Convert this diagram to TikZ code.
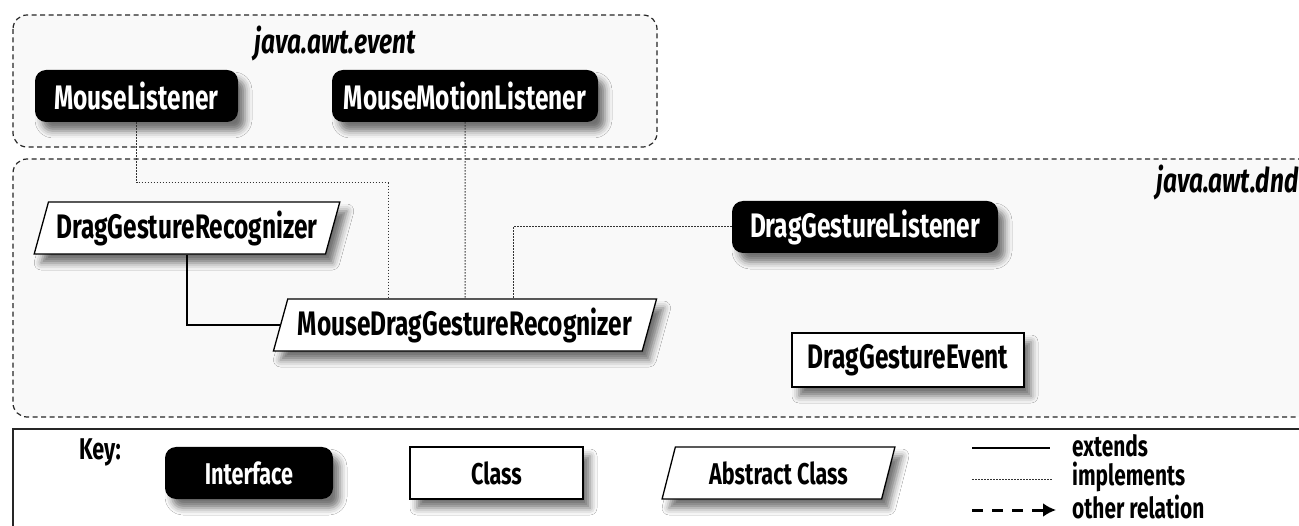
\documentclass[tikz,border=0pt]{standalone}
\usepackage{fontspec}
\setmainfont{Fira Sans}[FakeStretch=0.72]
\usetikzlibrary{shapes.geometric,shadows.blur,arrows.meta}
\begin{document}
\begin{tikzpicture}[x=1pt,y=-1pt,
  base/.style={font=\bfseries\fontsize{34}{36}\selectfont, minimum height=52pt, inner sep=0pt,
    blur shadow={shadow xshift=7pt, shadow yshift=-9pt, shadow blur radius=7pt, shadow opacity=55}},
  keyfont/.style={font=\bfseries\fontsize{30}{32}\selectfont},
  iface/.style={base, fill=black, text=white, rounded corners=11pt},
  cls/.style={base, draw=black, line width=1.3pt, fill=white},
  abs/.style={base, draw=black, line width=1.3pt, fill=white, trapezium, trapezium left angle=69,
    trapezium right angle=111, trapezium stretches=true},
  pkg/.style={draw=black!85, line width=1.2pt, dash pattern=on 5pt off 3.5pt},
  pkglabel/.style={font=\bfseries\itshape\fontsize{34}{36}\selectfont},
  impl/.style={draw=black!80, line width=1pt, dash pattern=on 1.5pt off 1.5pt},
  ext/.style={draw=black, line width=1.4pt},
  other/.style={draw=black, line width=3pt, dash pattern=on 11pt off 9pt, -{Latex[length=13pt,width=14pt]}},
  legend/.style={font=\bfseries\fontsize{29}{31}\selectfont, inner sep=0pt, anchor=west}
]
\useasboundingbox (0,0) rectangle (1299,526);
\clip (0,0) rectangle (1299,526);
\fill[white] (0,0) rectangle (1299,526);
% package frames
\fill[gray!5, rounded corners=14pt] (13,15) rectangle (657,147);
\fill[gray!5, rounded corners=14pt] (1320,159) -- (13,159) -- (13,417) -- (1320,417) -- cycle;
\draw[pkg, rounded corners=14pt] (13,15) rectangle (657,147);
\draw[pkg, rounded corners=14pt] (1320,159) -- (13,159) -- (13,417) -- (1320,417);
\draw[line width=1.6pt, black!85] (1320,429) -- (13,429) -- (13,540);
\node[pkglabel] (evt) at (335,44) {java.awt.event};
\node[pkglabel, anchor=east] (dnd) at (1302,183) {java.awt.dnd};
% nodes
\node[iface, minimum width=203pt] (ml) at (136.5,96) {MouseListener};
\node[iface, minimum width=266pt] (mml) at (465,96) {MouseMotionListener};
\node[abs, minimum width=306pt] (dgr) at (187,228) {DragGestureRecognizer};
\node[abs, minimum width=384pt] (mdgr) at (465,325) {MouseDragGestureRecognizer};
\node[iface, minimum width=266pt] (dgl) at (865,227) {DragGestureListener};
\node[cls, minimum width=232pt, minimum height=54pt] (dge) at (908,360) {DragGestureEvent};
% connectors
\coordinate (c1) at (388,183);
\coordinate (c2) at (513,227);
\draw[impl] (ml.south) |- (c1) -- (c1 |- mdgr.north);
\draw[impl] (mml.south) -- (mdgr.north);
\draw[impl] (dgl.west) -- (c2) -- (c2 |- mdgr.north);
\draw[ext] (dgr.south) |- (mdgr.west);
% key
\node[font=\bfseries\fontsize{30}{32}\selectfont] (key) at (100,452) {Key:};
\node[iface, keyfont, minimum width=168pt] (ki) at (249,473) {Interface};
\node[cls, keyfont, minimum width=173pt] (kc) at (496.5,473) {Class};
\node[abs, keyfont, minimum width=233pt] (ka) at (778.5,473) {Abstract Class};
\coordinate (l1a) at (972,448); \coordinate (l1b) at (1050,448);
\coordinate (l2a) at (972,479); \coordinate (l2b) at (1052,479);
\coordinate (l3a) at (972,510); \coordinate (l3b) at (1056,510);
\draw[ext] (l1a) -- (l1b);
\draw[impl] (l2a) -- (l2b);
\draw[other] (l3a) -- (l3b);
\node[legend] (t1) at (1072,446) {extends};
\node[legend] (t2) at (1072,477) {implements};
\node[legend] (t3) at (1072,507) {other relation};
\end{tikzpicture}
\end{document}
